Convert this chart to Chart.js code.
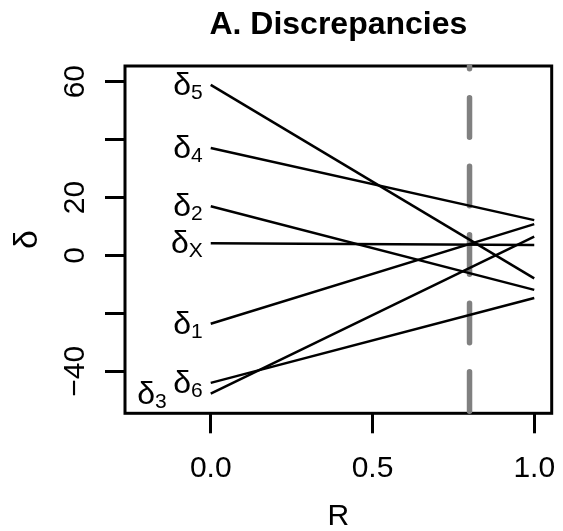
<!DOCTYPE html>
<html>
<head>
<meta charset="utf-8">
<script src="https://cdn.jsdelivr.net/npm/chart.js@4"></script>
<style>
  html, body { margin: 0; padding: 0; background: #fff; }
</style>
</head>
<body>
<canvas id="chart" width="563" height="531"></canvas>
<script>
// R values at the two ends of each line
const rPoints = [0, 1];
const seriesNames = ['5', '4', '2', 'X', '1', '6', '3'];
const startValues = [58.9, 37.1, 17.0, 4.2, -23.6, -44.0, -47.7];
const endValues = [-7.9, 12.2, -11.9, 3.6, 10.8, -14.7, 6.5];
const xTicks = [0, 0.5, 1];
const xTickLabels = ['0.0', '0.5', '1.0'];
const yTicks = [-40, -20, 0, 20, 40, 60];
const yTickLabels = ['\u221240', '', '0', '20', '', '60'];
const cutoffR = 0.8;

const FONT = '"Liberation Sans", Arial, Helvetica, sans-serif';

const datasets = seriesNames.map((name, i) => ({
    label: '\u03b4' + name,
    data: [
        { x: rPoints[0], y: startValues[i] },
        { x: rPoints[1], y: endValues[i] }
    ],
    borderColor: '#000',
    borderWidth: 2.5,
    pointRadius: 0,
    fill: false,
    tension: 0
}));

const tickGrid = {
    drawOnChartArea: false,
    drawTicks: true,
    tickLength: 20,
    color: '#000',
    lineWidth: 3
};

const decorPlugin = {
    id: 'decor',
    beforeDatasetsDraw(chart) {
        const ctx = chart.ctx;
        const a = chart.chartArea;
        ctx.save();
        ctx.strokeStyle = '#000';
        ctx.lineWidth = 3;
        ctx.strokeRect(a.left, a.top, a.right - a.left, a.bottom - a.top);

        // vertical reference line at R = 0.8
        const x = chart.scales.x.getPixelForValue(cutoffR);
        ctx.beginPath();
        ctx.rect(a.left, a.top - 2, a.right - a.left, a.bottom - a.top + 4);
        ctx.clip();
        ctx.strokeStyle = '#808080';
        ctx.lineWidth = 5.5;
        ctx.lineCap = 'round';
        ctx.setLineDash([39.5, 29]);
        ctx.lineDashOffset = 36.75;
        ctx.beginPath();
        ctx.moveTo(x, a.top);
        ctx.lineTo(x, a.bottom);
        ctx.stroke();
        ctx.restore();
    },
    afterDraw(chart) {
        const ctx = chart.ctx;
        const a = chart.chartArea;
        const xs = chart.scales.x;
        const ys = chart.scales.y;
        const midX = (a.left + a.right) / 2;
        ctx.save();
        ctx.fillStyle = '#000';

        ctx.font = 'bold 32px ' + FONT;
        ctx.textAlign = 'center';
        ctx.textBaseline = 'alphabetic';
        ctx.fillText('A. Discrepancies', midX, 33.5);

        ctx.font = '30px ' + FONT;
        xTicks.forEach((v, i) => {
            ctx.fillText(xTickLabels[i], xs.getPixelForValue(v), 477);
        });
        ctx.fillText('R', midX, 525);

        yTicks.forEach((v, i) => {
            if (!yTickLabels[i]) return;
            ctx.save();
            ctx.translate(84, ys.getPixelForValue(v));
            ctx.rotate(-Math.PI / 2);
            ctx.fillText(yTickLabels[i], 0, 0);
            ctx.restore();
        });
        ctx.save();
        ctx.font = '34px ' + FONT;
        ctx.translate(37, (a.top + a.bottom) / 2);
        ctx.rotate(-Math.PI / 2);
        ctx.fillText('\u03b4', 0, 0);
        ctx.restore();

        // line labels at R = 0
        ctx.textAlign = 'left';
        seriesNames.forEach((name, i) => {
            const y = ys.getPixelForValue(startValues[i]);
            let right = xs.getPixelForValue(rPoints[0]) - 8;
            if (name === '3') right -= 36;
            ctx.font = '21px ' + FONT;
            const ws = ctx.measureText(name).width;
            ctx.fillText(name, right - ws, y + 14);
            ctx.font = '32px ' + FONT;
            const wm = ctx.measureText('\u03b4').width;
            ctx.fillText('\u03b4', right - ws - wm, y + 10);
        });
        ctx.restore();
    }
};

new Chart(document.getElementById('chart'), {
    type: 'line',
    data: { datasets: datasets },
    options: {
        responsive: false,
        animation: false,
        devicePixelRatio: 1,
        layout: { padding: { top: 66, right: 11.3, left: 0, bottom: 0 } },
        plugins: {
            legend: { display: false },
            tooltip: { enabled: false }
        },
        scales: {
            x: {
                type: 'linear',
                min: -0.265,
                max: 1.054,
                afterBuildTicks: s => { s.ticks = xTicks.map(v => ({ value: v })); },
                afterFit: s => { s.height = 117.7; },
                ticks: { display: false },
                grid: tickGrid,
                border: { display: false }
            },
            y: {
                type: 'linear',
                min: -54.5,
                max: 65.4,
                afterBuildTicks: s => { s.ticks = yTicks.map(v => ({ value: v })); },
                afterFit: s => { s.width = 125; },
                ticks: { display: false },
                grid: tickGrid,
                border: { display: false }
            }
        }
    },
    plugins: [decorPlugin]
});
</script>
</body>
</html>
